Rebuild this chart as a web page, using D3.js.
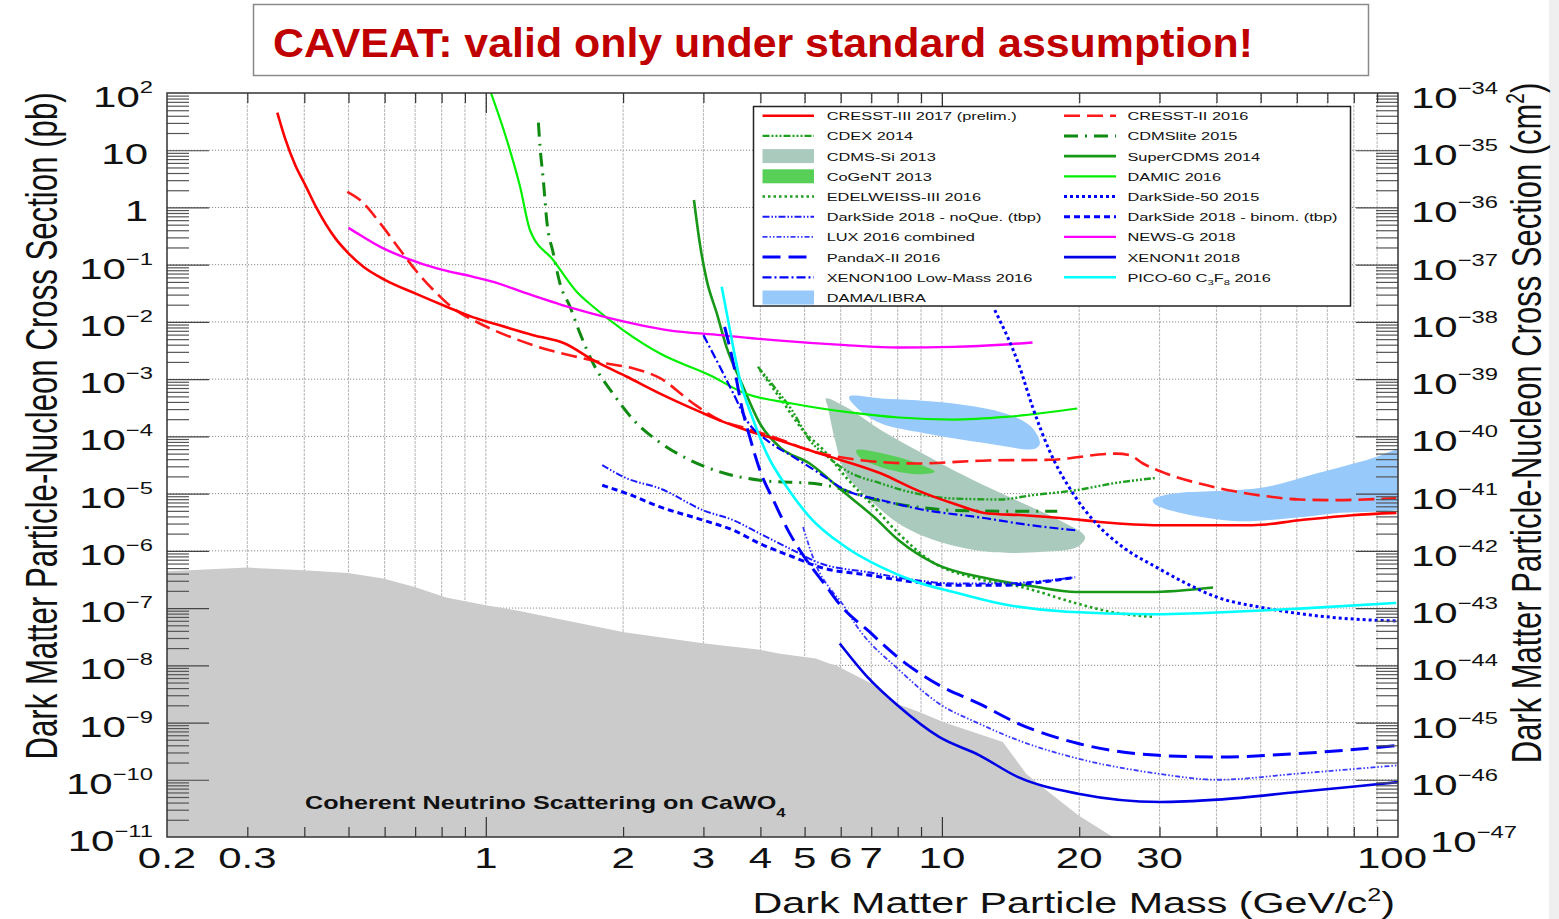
<!DOCTYPE html>
<html>
<head>
<meta charset="utf-8">
<script src="https://cdn.jsdelivr.net/npm/d3@7"></script>
<style>
  html, body { margin: 0; padding: 0; background: #ffffff; }
  svg { display: block; }
  text { font-family: "Liberation Sans", Arial, Helvetica, sans-serif; }
</style>
</head>
<body>
<svg id="chart" width="1559" height="919"></svg>
<script>
// ---- Limits: [WIMP mass (GeV/c^2), cross section (pb)] ----
const cresst3_2017 = [[0.349,45.3],[0.363,16.1],[0.382,5.5],[0.402,2.46],[0.426,0.96],[0.468,0.288],[0.500,0.158],[0.539,0.092],[0.602,0.0538],[0.700,0.0315],[0.821,0.0184],[0.939,0.012],[1.039,0.0094],[1.271,0.00587],[1.49,0.0042],[1.72,0.00215],[2.04,0.0011],[2.41,5.6e-4],[2.95,2.68e-4],[3.32,1.79e-4],[3.73,1.28e-4],[4.27,9.2e-5],[5.40,5.0e-5],[7.36,2.24e-5],[8.81,1.15e-5],[10.6,6.7e-6],[12.6,4.5e-6],[15.1,4.2e-6],[18.8,3.67e-6],[22.2,3.2e-6],[30.0,2.8e-6],[48,2.8e-6],[60.8,3.43e-6],[79.4,4.19e-6],[99.2,4.6e-6]];
const cresst2_2016 = [[0.497,1.88],[0.530,1.35],[0.587,0.527],[0.649,0.18],[0.706,0.0752],[0.781,0.0315],[0.849,0.0172],[0.939,0.0107],[1.022,0.0077],[1.130,0.0055],[1.337,0.00344],[1.582,0.00245],[1.84,0.00188],[2.11,0.00154],[2.41,0.00104],[2.85,3.76e-4],[3.26,1.92e-4],[3.73,1.37e-4],[4.27,9.8e-5],[5.13,5.7e-5],[6.73,3.8e-5],[8.81,3.36e-5],[12.6,3.8e-5],[17.2,3.9e-5],[24.1,5.0e-5],[25.8,4.7e-5],[27.6,3.36e-5],[31.0,2.24e-5],[36.7,1.5e-5],[43.5,1.11e-5],[51.4,9.0e-6],[60.8,7.9e-6],[71.9,7.7e-6],[99.1,8.3e-6]];
const cdex_2014 = [[3.95,0.00164],[4.29,7.3e-4],[4.69,2.87e-4],[5.13,8.6e-5],[5.62,4.4e-5],[6.15,2.57e-5],[7.36,1.5e-5],[8.81,1.0e-5],[10.6,8.2e-6],[13.4,7.9e-6],[15.8,9.4e-6],[19.7,1.15e-5],[24.1,1.54e-5],[29.5,1.88e-5]];
const cdmslite_2015 = [[1.304,30.3],[1.315,11.5],[1.337,3.01],[1.36,0.60],[1.406,0.158],[1.454,0.047],[1.53,0.0184],[1.609,0.0063],[1.72,0.00188],[1.90,5.6e-4],[2.11,1.92e-4],[2.41,7.8e-5],[2.76,4.1e-5],[3.26,2.4e-5],[3.99,1.71e-5],[5.40,1.46e-5],[7.23,7.7e-6],[8.81,5.85e-6],[10.6,5.1e-6],[15.1,4.9e-6],[17.9,4.9e-6]];
const supercdms_2014 = [[2.86,1.35],[2.95,0.22],[3.05,0.0538],[3.21,0.0141],[3.37,0.00367],[3.64,8.4e-4],[3.99,1.68e-4],[4.41,6.5e-5],[5.13,3.36e-5],[6.15,1.0e-5],[7.10,3.9e-6],[8.04,1.53e-6],[9.65,6.0e-7],[12.6,3.28e-7],[15.8,2.4e-7],[19.7,1.91e-7],[28.5,1.91e-7],[39.3,2.29e-7]];
const damic_2016 = [[1.027,99],[1.112,15.1],[1.189,2.3],[1.25,0.403],[1.406,0.12],[1.582,0.0336],[1.72,0.0184],[2.0,0.0072],[2.41,0.0028],[3.10,0.00117],[3.71,5.6e-4],[4.69,3.76e-4],[6.15,2.68e-4],[8.04,2.14e-4],[10.6,1.97e-4],[13.8,2.19e-4],[19.8,3.07e-4]];
const edelweiss3_2016 = [[3.99,0.00144],[4.45,4.3e-4],[4.96,1.28e-4],[5.51,5.7e-5],[6.15,1.96e-5],[7.10,5.85e-6],[8.04,2.0e-6],[9.65,6.0e-7],[11.55,3.5e-7],[15.1,2.29e-7],[19.8,1.2e-7],[23.4,8.6e-8],[29.2,7.0e-8]];
const darkside50_2015 = [[13.06,0.0161],[14.8,0.00164],[15.8,3.28e-4],[17.2,5.7e-5],[19.4,1.0e-5],[21.8,3.0e-6],[24.9,1.17e-6],[29.5,5.2e-7],[34.4,2.68e-7],[40.0,1.56e-7],[49.7,1.04e-7],[60.8,8.0e-8],[78.3,6.5e-8],[99.1,5.95e-8]];
const darkside2018_noque = [[1.80,3.14e-5],[2.04,1.84e-5],[2.41,1.23e-5],[3.00,5.1e-6],[3.49,3.43e-6],[3.99,2.0e-6],[4.72,1.02e-6],[5.40,6.1e-7],[6.95,4.2e-7],[8.81,3.06e-7],[10.6,2.7e-7],[13.4,2.7e-7],[16.4,2.94e-7],[19.6,3.45e-7]];
const darkside2018_binom = [[1.80,1.4e-5],[2.04,1.0e-5],[2.41,5.85e-6],[3.00,3.43e-6],[3.49,2.29e-6],[3.99,1.34e-6],[4.72,7.8e-7],[5.40,5.2e-7],[6.95,3.74e-7],[8.81,2.82e-7],[10.6,2.5e-7],[13.4,2.5e-7],[16.4,2.82e-7],[19.6,3.45e-7]];
const lux_2016 = [[4.96,2.62e-6],[5.32,5.2e-7],[5.72,2.05e-7],[5.97,1.37e-7],[6.60,4.1e-8],[8.07,8.2e-9],[9.86,2.14e-9],[12.06,9.6e-10],[14.7,4.9e-10],[19.9,2.34e-10],[29.8,1.28e-10],[40.2,1.0e-10],[60.2,1.28e-10],[81.4,1.56e-10],[100,1.79e-10]];
const newsg_2018 = [[0.500,0.44],[0.530,0.33],[0.587,0.205],[0.671,0.129],[0.781,0.086],[0.939,0.0614],[1.039,0.050],[1.23,0.0315],[1.556,0.0172],[1.84,0.012],[2.50,0.0072],[3.27,0.00588],[4.28,0.0048],[6.16,0.00393],[8.04,0.00358],[10.6,0.00367],[13.8,0.00404],[15.8,0.00438]];
const pandax2_2016 = [[3.34,0.0082],[3.49,0.00188],[3.64,3.28e-4],[3.79,9.8e-5],[3.99,2.57e-5],[4.27,7.7e-6],[4.64,2.0e-6],[5.05,6.85e-7],[5.52,2.68e-7],[6.04,1.04e-7],[6.87,4.1e-8],[8.07,1.31e-8],[9.86,4.5e-9],[12.06,2.14e-9],[14.7,9.6e-10],[19.9,4.3e-10],[29.8,2.67e-10],[40.2,2.5e-10],[60.2,2.86e-10],[90.9,3.7e-10],[100,4.0e-10]];
const xenon1t_2018 = [[5.97,2.4e-8],[6.87,6.2e-9],[7.99,2.0e-9],[9.86,5.6e-10],[12.06,2.7e-10],[14.7,1.11e-10],[19.9,5.7e-11],[30.1,4.1e-11],[40.2,4.5e-11],[60.2,6.1e-11],[81.4,7.7e-11],[100,9.1e-11]];
const xenon100_lowmass_2016 = [[3.00,0.00588],[3.26,0.00164],[3.49,5.6e-4],[3.73,1.92e-4],[4.13,8.6e-5],[4.72,4.4e-5],[5.40,2.24e-5],[6.15,1.15e-5],[7.36,7.7e-6],[8.81,5.5e-6],[12.6,3.67e-6],[15.1,2.92e-6],[19.6,2.29e-6]];
const pico60_2016 = [[3.29,0.041],[3.43,0.0072],[3.61,9.6e-4],[3.86,1.92e-4],[4.13,5.0e-5],[4.57,1.31e-5],[5.13,3.9e-6],[6.15,1.17e-6],[7.36,5.2e-7],[8.81,2.86e-7],[10.6,1.91e-7],[13.4,1.2e-7],[18.8,8.6e-8],[28.5,7.8e-8],[43.5,8.6e-8],[60.8,9.8e-8],[99.1,1.23e-7]];

// ---- Signal regions (closed contours) ----
const cdmssi_2013 = [[5.57,4.6e-4],[6.15,3.28e-4],[7.36,1.28e-4],[8.81,5.7e-5],[10.6,2.57e-5],[12.6,1.31e-5],[15.1,6.7e-6],[18.1,3.43e-6],[20.6,1.75e-6],[19.8,1.17e-6],[16.6,9.6e-7],[12.6,9.6e-7],[9.65,1.53e-6],[8.04,3.0e-6],[6.73,1.0e-5],[6.15,2.24e-5],[5.83,8.6e-5],[5.62,3.28e-4]];
const cogent_2013 = [[6.49,5.7e-5],[7.35,5.1e-5],[8.81,3.4e-5],[9.65,2.4e-5],[8.81,2.18e-5],[7.35,2.9e-5],[6.6,4.3e-5]];
const dama_libra_low = [[6.26,4.9e-4],[7.36,4.6e-4],[10.6,3.76e-4],[13.8,2.5e-4],[15.7,1.47e-4],[16.4,7.5e-5],[16.0,6.1e-5],[12.6,7.5e-5],[8.81,1.2e-4],[7.36,1.68e-4],[6.6,2.87e-4]];
const dama_libra_high = [[29.0,7.7e-6],[32.1,1.0e-5],[40.0,1.11e-5],[51.4,1.31e-5],[66.2,2.24e-5],[85.2,3.84e-5],[112,6.5e-5],[112,7.6e-6],[71.9,4.5e-6],[51.4,3.43e-6],[43.5,3.33e-6],[33.8,4.5e-6],[29.5,6.3e-6]];

// ---- Neutrino floor for CaWO4 ----
const nuFloor_cawo4 = [[0.2,4.4e-7],[0.224,4.57e-7],[0.3,5.1e-7],[0.398,4.6e-7],[0.498,4.1e-7],[0.596,3.3e-7],[0.698,2.34e-7],[0.818,1.53e-7],[1.0,1.12e-7],[1.17,9.1e-8],[2.01,3.8e-8],[3.02,2.4e-8],[3.95,1.88e-8],[4.42,1.6e-8],[5.29,1.31e-8],[5.68,1.07e-8],[5.85,1.0e-8],[7.0,4.8e-9],[7.98,2.14e-9],[8.92,1.53e-9],[10.06,1.02e-9],[13.6,4.56e-10],[15.3,1.28e-10],[16.6,7.5e-11],[19.9,2.4e-11],[23.7,1.0e-11]];

// ---- Axis ticks and labels ----
const leftExps = [2,1,0,-1,-2,-3,-4,-5,-6,-7,-8,-9,-10,-11];
const rightExps = [-34,-35,-36,-37,-38,-39,-40,-41,-42,-43,-44,-45,-46,-47];
const xTickValues = [0.2,0.3,1,2,3,4,5,6,7,10,20,30,100];
const xTickLabels = ["0.2","0.3","1","2","3","4","5","6","7","10","20","30","100"];
const xMinorTicks = [0.3,0.4,0.5,0.6,0.7,0.8,0.9,2,3,4,5,6,7,8,9,20,30,40,50,60,70,80,90];
const xMajorTicks = [1,10];

// ---- Legend (two columns) ----
const legendLeft = [
  {key:"cresst3", label:"CRESST-III 2017 (prelim.)"},
  {key:"cdex", label:"CDEX 2014"},
  {key:"cdmssi", label:"CDMS-Si 2013", fill:true},
  {key:"cogent", label:"CoGeNT 2013", fill:true},
  {key:"edelweiss", label:"EDELWEISS-III 2016"},
  {key:"dsNoQue", label:"DarkSide 2018 - noQue. (tbp)"},
  {key:"lux", label:"LUX 2016 combined"},
  {key:"pandax", label:"PandaX-II 2016"},
  {key:"xenon100", label:"XENON100 Low-Mass 2016"},
  {key:"dama", label:"DAMA/LIBRA", fill:true}
];
const legendRight = [
  {key:"cresst2", label:"CRESST-II 2016"},
  {key:"cdmslite", label:"CDMSlite 2015"},
  {key:"supercdms", label:"SuperCDMS 2014"},
  {key:"damic", label:"DAMIC 2016"},
  {key:"darkside50", label:"DarkSide-50 2015"},
  {key:"dsBinom", label:"DarkSide 2018 - binom. (tbp)"},
  {key:"newsg", label:"NEWS-G 2018"},
  {key:"xenon1t", label:"XENON1t 2018"},
  {key:"pico", label:"PICO-60 C", sub:["3","F","8"], tail:" 2016"}
];

// ---- Styles ----
const lineStyle = {
  cresst3:   {data: cresst3_2017,        stroke:"#ff0000", width:2.6, dash:null},
  cresst2:   {data: cresst2_2016,        stroke:"#ff1a1a", width:2.6, dash:"16,7"},
  cdex:      {data: cdex_2014,           stroke:"#1f9f1f", width:2.4, dash:"7,2,2,2,2,2,2,2"},
  cdmslite:  {data: cdmslite_2015,       stroke:"#118a11", width:3,   dash:"14,7,2,7"},
  supercdms: {data: supercdms_2014,      stroke:"#189818", width:2.6, dash:null},
  damic:     {data: damic_2016,          stroke:"#00f000", width:2.2, dash:null},
  edelweiss: {data: edelweiss3_2016,     stroke:"#1f9f1f", width:2.6, dash:"2.5,3"},
  darkside50:{data: darkside50_2015,     stroke:"#0000ff", width:3,   dash:"3,3"},
  dsNoQue:   {data: darkside2018_noque,  stroke:"#1a1aff", width:2,   dash:"7,2,1.5,2,1.5,2"},
  dsBinom:   {data: darkside2018_binom,  stroke:"#0000ff", width:3,   dash:"6,4"},
  lux:       {data: lux_2016,            stroke:"#3a3aff", width:1.8, dash:"5,2,1.5,2,1.5,2"},
  newsg:     {data: newsg_2018,          stroke:"#ff00ff", width:2.4, dash:null},
  pandax:    {data: pandax2_2016,        stroke:"#0000ff", width:3,   dash:"18,8"},
  xenon1t:   {data: xenon1t_2018,        stroke:"#0000e6", width:2.6, dash:null},
  xenon100:  {data: xenon100_lowmass_2016, stroke:"#0000ff", width:2.2, dash:"9,3,2,3"},
  pico:      {data: pico60_2016,         stroke:"#00ffff", width:2.6, dash:null}
};
const fillStyle = {
  cdmssi: {regions:[cdmssi_2013], fill:"#abcabe"},
  cogent: {regions:[cogent_2013], fill:"#58d058"},
  dama:   {regions:[dama_libra_low, dama_libra_high], fill:"#97c9fb"}
};
const lineOrder = ["cdmslite","cdex","edelweiss","supercdms","damic","newsg","cresst2","cresst3",
  "darkside50","dsNoQue","dsBinom","xenon100","lux","pandax","xenon1t","pico"];

// ---- Layout ----
const plot = {left:167, right:1398, top:93, bottom:837};
const STRETCH = 1.4;

const svg = d3.select("#chart");
const x = d3.scaleLog().domain([0.2, 100]).range([plot.left, plot.right]);
const y = d3.scaleLog().domain([1e-11, 1e2]).range([plot.bottom, plot.top]);
const yCm = d3.scaleLog().domain([1e-47, 1e-34]).range([plot.bottom, plot.top]);

// page background edge
svg.append("rect").attr("x",0).attr("y",0).attr("width",1559).attr("height",919).attr("fill","#ffffff");
svg.append("rect").attr("x",1549).attr("y",0).attr("width",10).attr("height",919).attr("fill","#efefef");

svg.append("defs").append("clipPath").attr("id","plotClip")
  .append("rect").attr("x",plot.left).attr("y",plot.top)
  .attr("width",plot.right-plot.left).attr("height",plot.bottom-plot.top);

// ---- Grid ----
const grid = svg.append("g");
const decadeGrid = d3.range(-10, 2).map(e => Math.pow(10, e));
grid.selectAll("line.h").data(decadeGrid).join("line")
  .attr("x1", plot.left).attr("x2", plot.right)
  .attr("y1", d => y(d)).attr("y2", d => y(d))
  .attr("stroke", "#8c8c8c").attr("stroke-width", 1).attr("stroke-dasharray", "1.2,1.8");
grid.selectAll("line.v").data(xMinorTicks.concat(xMajorTicks)).join("line")
  .attr("x1", d => x(d)).attr("x2", d => x(d))
  .attr("y1", plot.top).attr("y2", plot.bottom)
  .attr("stroke", "#bdbdbd").attr("stroke-width", 1.1).attr("stroke-dasharray", "3,1");

const body = svg.append("g").attr("clip-path", "url(#plotClip)");

// ---- Neutrino floor ----
const floorArea = d3.area()
  .x(d => x(d[0])).y0(y(1e-11)).y1(d => y(d[1]));
body.append("path").datum(nuFloor_cawo4)
  .attr("d", floorArea).attr("fill", "#cbcbcb");

// ---- Filled regions ----
const blob = d3.line().x(d => x(d[0])).y(d => y(d[1])).curve(d3.curveCatmullRomClosed.alpha(0.5));
["cdmssi","dama","cogent"].forEach(k => {
  fillStyle[k].regions.forEach(r => {
    body.append("path").datum(r).attr("d", blob).attr("fill", fillStyle[k].fill).attr("stroke","none");
  });
});

// ---- Exclusion curves ----
const curve = d3.line().x(d => x(d[0])).y(d => y(d[1])).curve(d3.curveMonotoneX);
lineOrder.forEach(k => {
  const s = lineStyle[k];
  body.append("path").datum(s.data)
    .attr("d", curve)
    .attr("fill", "none")
    .attr("stroke", s.stroke)
    .attr("stroke-width", s.width)
    .attr("stroke-linejoin", "round")
    .attr("stroke-dasharray", s.dash);
});

// ---- Axes (ticks) ----
function decadeMinors(lo, hi) {
  const out = [];
  for (let e = lo; e < hi; e++) for (let k = 2; k <= 9; k++) out.push(k * Math.pow(10, e));
  return out;
}
const yMinor = decadeMinors(-11, 2);
const yMajor = d3.range(-10, 2).map(e => Math.pow(10, e));

function styleAxis(g, color) {
  g.select(".domain").remove();
  g.selectAll(".tick line").attr("stroke", color).attr("stroke-width", 1.2);
  g.selectAll(".tick text").remove();
}
svg.append("g").attr("transform", `translate(${plot.left},0)`)
  .call(d3.axisLeft(y).tickValues(yMinor).tickSize(-22).tickFormat(""))
  .call(g => styleAxis(g, "#555"));
svg.append("g").attr("transform", `translate(${plot.left},0)`)
  .call(d3.axisLeft(y).tickValues(yMajor).tickSize(-42).tickFormat(""))
  .call(g => styleAxis(g, "#444"));
svg.append("g").attr("transform", `translate(${plot.right},0)`)
  .call(d3.axisRight(y).tickValues(yMinor).tickSize(-22).tickFormat(""))
  .call(g => styleAxis(g, "#555"));
svg.append("g").attr("transform", `translate(${plot.right},0)`)
  .call(d3.axisRight(y).tickValues(yMajor).tickSize(-42).tickFormat(""))
  .call(g => styleAxis(g, "#444"));
svg.append("g").attr("transform", `translate(0,${plot.bottom})`)
  .call(d3.axisBottom(x).tickValues(xMinorTicks).tickSize(-10).tickFormat(""))
  .call(g => styleAxis(g, "#333"));
svg.append("g").attr("transform", `translate(0,${plot.bottom})`)
  .call(d3.axisBottom(x).tickValues(xMajorTicks).tickSize(-20).tickFormat(""))
  .call(g => styleAxis(g, "#333"));
svg.append("g").attr("transform", `translate(0,${plot.top})`)
  .call(d3.axisTop(x).tickValues(xMinorTicks).tickSize(-10).tickFormat(""))
  .call(g => styleAxis(g, "#333"));
svg.append("g").attr("transform", `translate(0,${plot.top})`)
  .call(d3.axisTop(x).tickValues(xMajorTicks).tickSize(-20).tickFormat(""))
  .call(g => styleAxis(g, "#333"));

svg.append("rect")
  .attr("x", plot.left).attr("y", plot.top)
  .attr("width", plot.right - plot.left).attr("height", plot.bottom - plot.top)
  .attr("fill", "none").attr("stroke", "#333").attr("stroke-width", 1.5);

// ---- Tick labels ----
const minus = "\u2212";
leftExps.forEach(e => {
  const plain = e === 0 ? "1" : (e === 1 ? "10" : null);
  const t = svg.append("text")
    .attr("transform", `translate(${plain ? 148 : 153},${y(Math.pow(10, e)) + 14}) scale(${STRETCH},1)`)
    .attr("text-anchor", "end").attr("font-size", 30).attr("fill", "#111");
  if (plain) t.text(plain);
  else {
    t.append("tspan").text("10");
    t.append("tspan").attr("font-size", 17).attr("dy", -14).text(e < 0 ? minus + (-e) : String(e));
  }
});
rightExps.forEach(e => {
  // the lowest label sits just right of the "100" mass label
  const xr = e === -47 ? 1430 : 1411;
  const t = svg.append("text")
    .attr("transform", `translate(${xr},${yCm(Math.pow(10, e)) + 15}) scale(${STRETCH},1)`)
    .attr("text-anchor", "start").attr("font-size", 30).attr("fill", "#111");
  t.append("tspan").text("10");
  t.append("tspan").attr("font-size", 17).attr("dy", -14).text(minus + (-e));
});
xTickValues.forEach((v, i) => {
  const cx = v === 100 ? x(v) - 6 : x(v);
  svg.append("text")
    .attr("transform", `translate(${cx},868) scale(${STRETCH},1)`)
    .attr("text-anchor", "middle").attr("font-size", 30).attr("fill", "#111")
    .text(xTickLabels[i]);
});

// ---- Axis titles ----
const xt = svg.append("text")
  .attr("transform", `translate(1395,913) scale(${STRETCH},1)`)
  .attr("text-anchor", "end").attr("font-size", 29.5).attr("fill", "#111");
xt.append("tspan").text("Dark Matter Particle Mass (GeV/c");
xt.append("tspan").attr("font-size", 18).attr("dy", -12).text("2");
xt.append("tspan").attr("dy", 12).text(")");

svg.append("text")
  .attr("transform", `translate(57,426) scale(${STRETCH},1) rotate(-90)`)
  .attr("text-anchor", "middle").attr("font-size", 31.2).attr("fill", "#111")
  .text("Dark Matter Particle-Nucleon Cross Section (pb)");

const yr = svg.append("text")
  .attr("transform", `translate(1541,423) scale(${STRETCH},1) rotate(-90)`)
  .attr("text-anchor", "middle").attr("font-size", 31).attr("fill", "#111");
yr.append("tspan").text("Dark Matter Particle-Nucleon Cross Section (cm");
yr.append("tspan").attr("font-size", 19).attr("dy", -12).text("2");
yr.append("tspan").attr("dy", 12).text(")");

// ---- Neutrino floor label ----
const nl = svg.append("text")
  .attr("transform", `translate(305,809) scale(${STRETCH},1)`)
  .attr("font-size", 18).attr("font-weight", "bold").attr("fill", "#111");
nl.append("tspan").text("Coherent Neutrino Scattering on CaWO");
nl.append("tspan").attr("font-size", 12).attr("dy", 8).text("4");

// ---- Legend ----
const lg = svg.append("g");
lg.append("rect").attr("x", 753.5).attr("y", 106.5).attr("width", 597).attr("height", 199.5)
  .attr("fill", "#ffffff").attr("stroke", "#222").attr("stroke-width", 1.5);
function legendColumn(entries, x0, x1, tx) {
  entries.forEach((d, i) => {
    const cy = 115.7 + i * 20.2;
    if (d.fill) {
      lg.append("rect").attr("x", x0).attr("y", cy - 7).attr("width", x1 - x0).attr("height", 14)
        .attr("fill", fillStyle[d.key].fill);
    } else {
      const s = lineStyle[d.key];
      lg.append("line").attr("x1", x0).attr("x2", x1).attr("y1", cy).attr("y2", cy)
        .attr("stroke", s.stroke).attr("stroke-width", s.width).attr("stroke-dasharray", s.dash);
    }
    const t = lg.append("text")
      .attr("transform", `translate(${tx},${cy + 4.5}) scale(${STRETCH},1)`)
      .attr("font-size", 11.7).attr("fill", "#111");
    t.append("tspan").text(d.label);
    if (d.sub) {
      t.append("tspan").attr("font-size", 8).attr("dy", 3).text(d.sub[0]);
      t.append("tspan").attr("dy", -3).text(d.sub[1]);
      t.append("tspan").attr("font-size", 8).attr("dy", 3).text(d.sub[2]);
      t.append("tspan").attr("dy", -3).text(d.tail);
    }
  });
}
legendColumn(legendLeft, 762.5, 814, 826.7);
legendColumn(legendRight, 1064, 1116, 1127.4);

// ---- Caveat banner ----
svg.append("rect").attr("x", 253.5).attr("y", 4.5).attr("width", 1115).attr("height", 71)
  .attr("fill", "#ffffff").attr("stroke", "#8a8a8a").attr("stroke-width", 1.5);
svg.append("text")
  .attr("x", 273).attr("y", 57)
  .attr("font-family", "Lato, 'DejaVu Sans', sans-serif")
  .attr("font-weight", "bold").attr("font-size", 40).attr("fill", "#c00000")
  .attr("textLength", 980).attr("lengthAdjust", "spacingAndGlyphs")
  .text("CAVEAT: valid only under standard assumption!");
</script>
</body>
</html>
